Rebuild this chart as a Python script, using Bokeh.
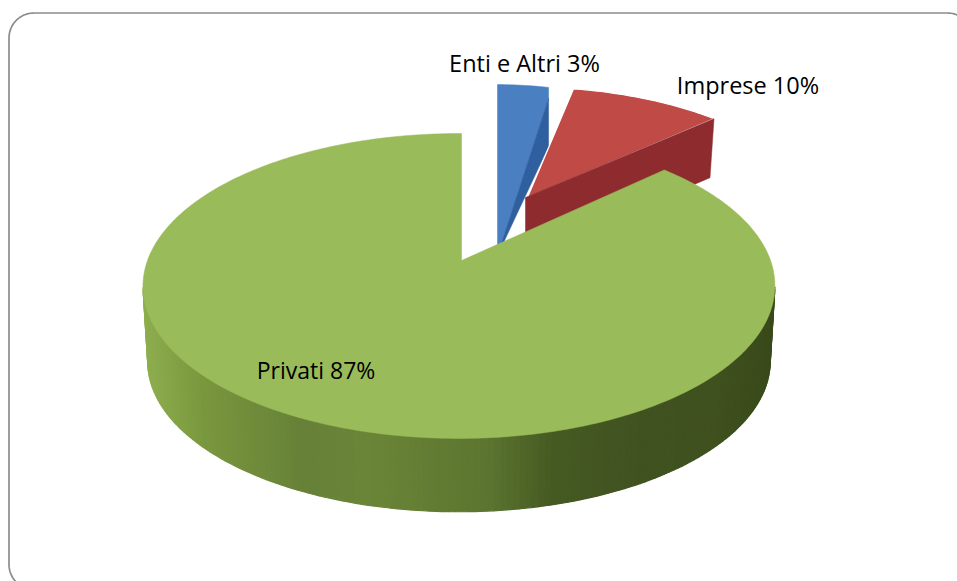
import numpy as np
from bokeh.plotting import figure
from bokeh.embed import file_html
from bokeh.resources import INLINE
from bokeh.core.properties import value

# data
categories = ["Enti e Altri", "Imprese", "Privati"]
shares = [3, 10, 87]
labels = ["Enti e Altri 3%", "Imprese 10%", "Privati 87%"]

# layout: the plot's coordinates run in page pixels
W, H = 957, 581
p = figure(width=W, height=H, x_range=(0, W), y_range=(H, 0),
           output_backend="svg", toolbar_location=None, min_border=0)
p.xaxis.visible = False
p.yaxis.visible = False
p.grid.visible = False
p.outline_line_color = None
p.background_fill_color = "white"
p.border_fill_color = "white"

# rounded frame
fx0, fx1, fy0, fy1, fr = 8.5, 972, 12.5, 589, 25
t = np.linspace(0, np.pi / 2, 24)
fxs = np.concatenate([fx0 + fr - fr * np.cos(t), fx1 - fr + fr * np.sin(t),
                      fx1 - fr + fr * np.cos(t), fx0 + fr - fr * np.sin(t), [fx0]])
fys = np.concatenate([fy0 + fr - fr * np.sin(t), fy0 + fr - fr * np.cos(t),
                      fy1 - fr + fr * np.sin(t), fy1 - fr + fr * np.cos(t), [fy0 + fr]])
p.line(fxs, fys, line_color="#8c8c8c", line_width=1.7)

# perspective disc: angle measured clockwise from the top
E, F, A, B = 0.167, 0.008, 311.5, 148.2


def rim(phi_deg, ox, oy, sx=1.0, sy=1.0):
    ph = np.radians(phi_deg)
    X, Y = np.sin(ph), np.cos(ph)
    w = 1 + E * Y + F * X
    return ox + sx * A * X / w, oy - sy * B * Y / w


# slice angles from the shares
deg = np.array(shares) / sum(shares) * 360
b0, b1 = 0.0, deg[0]
r0, r1 = b1, b1 + deg[1]
g0, g1 = r1, 360.0

# --- blue slice
bx, by = 497, 255
xs, ys = rim(np.linspace(b0, b1, 12), bx, by, 1.02, 1.346)
p.patch(np.r_[bx, xs, xs[-1]], np.r_[by, ys, ys[-1] + 11],
        fill_color="#4a7fc1", line_color="#4a7fc1", line_width=0.5)
p.patch([xs[-1], xs[-1], bx], [ys[-1] + 11, ys[-1] + 59, by],
        fill_color="#2f5f9e", line_color="#2f5f9e", line_width=0.5)

# --- red slice
rx, ry = 527, 197
xs, ys = rim(np.linspace(r0, r1, 40), rx, ry, 0.92, 0.87)
p.patch(np.r_[rx, xs], np.r_[ry, ys], fill_color="#bf4a46", line_color="white", line_width=1.2)
p.patch([rx - 2, xs[-1], xs[-1] - 4, rx - 2], [ry, ys[-1], ys[-1] + 59, ry + 59],
        fill_color="#8d2b2e", line_color="#8d2b2e", line_width=0.5)

# --- green slice: wall in strips, then the top face
gx, gy = 461, 260
S, DY = 0.985, 76
stop_x = [143, 200, 300, 366, 488, 551, 635, 719, 775]
stop_c = [(0x8e, 0xae, 0x4f), (0x7a, 0x98, 0x3e), (0x67, 0x82, 0x38), (0x6b, 0x86, 0x38),
          (0x5c, 0x75, 0x30), (0x46, 0x5b, 0x23), (0x41, 0x53, 0x21), (0x3f, 0x51, 0x1e), (0x3a, 0x4a, 0x1b)]
edges = np.linspace(100, 260, 161)
tx, ty = rim(edges, gx, gy)
lx, ly = rim(edges, gx, gy + DY, S, S)
for i in range(len(edges) - 1):
    mid = (tx[i] + tx[i + 1]) / 2
    col = [int(np.interp(mid, stop_x, [c[k] for c in stop_c])) for k in range(3)]
    hexc = "#%02x%02x%02x" % tuple(col)
    p.patch([tx[i], tx[i + 1], lx[i + 1], lx[i]], [ty[i], ty[i + 1], ly[i + 1], ly[i]],
            fill_color=hexc, line_color=hexc, line_width=1.2)

xs, ys = rim(np.linspace(g0, g1, 360), gx, gy)
p.patch(np.r_[gx, xs], np.r_[gy, ys], fill_color="#9abb59", line_color="#9abb59", line_width=0.5)

# labels
FONT = value("Open Sans")
p.text([524], [62], text=[labels[0]], text_font=FONT, text_font_size="23.5px",
       text_color="black", text_align="center", text_baseline="middle")
p.text([747.5], [84], text=[labels[1]], text_font=FONT, text_font_size="23.5px",
       text_color="black", text_align="center", text_baseline="middle")
p.text([315.5], [369], text=[labels[2]], text_font=FONT, text_font_size="23px",
       text_color="black", text_align="center", text_baseline="middle")

open("out.html", "w").write(file_html(p, INLINE))
